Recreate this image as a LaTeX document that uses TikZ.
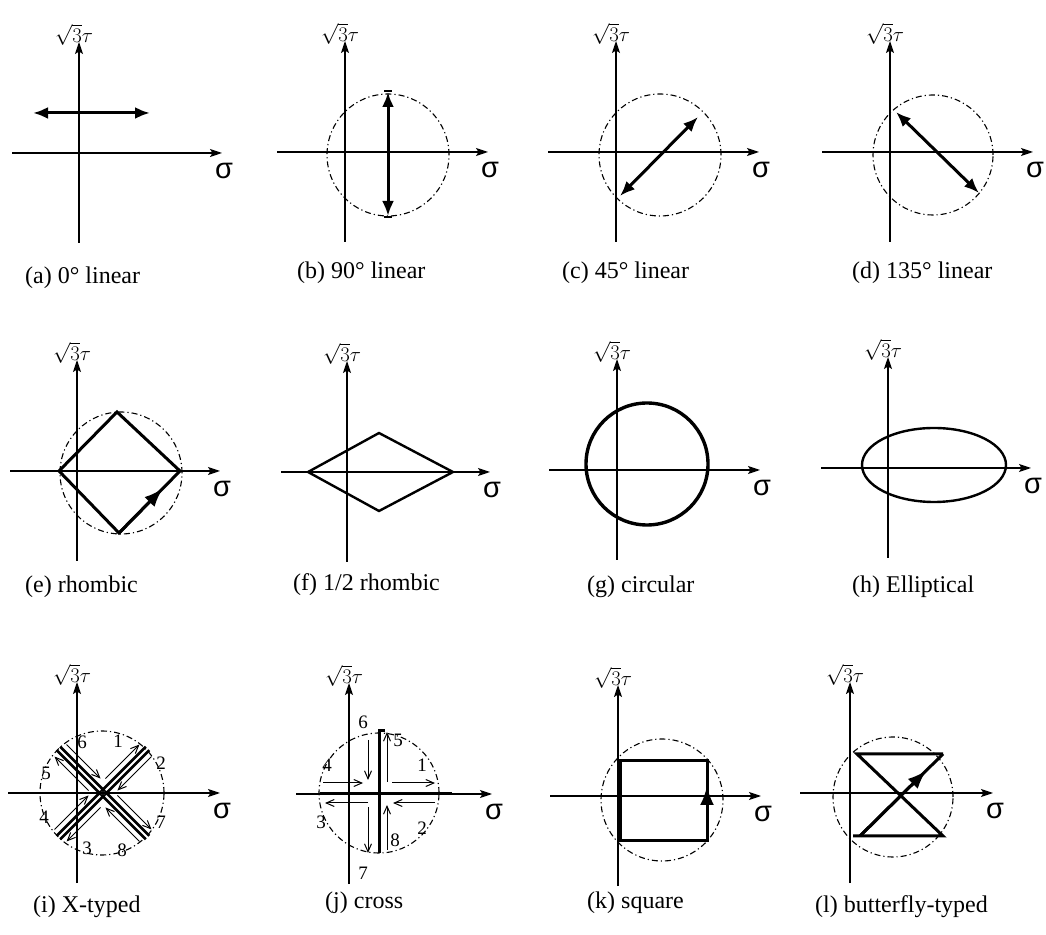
\documentclass[tikz,border=0pt]{standalone}
\usepackage{fontspec}
\setmainfont{Liberation Serif}
\newfontfamily\sigmafont{Liberation Sans}
\usetikzlibrary{arrows.meta, calc}

% axes of one panel: #1 = left end of the sigma axis, #2 = panel name
\newcommand{\drawaxes}[2]{%
    \draw[axis] (#1,0) -- (143,0);
    \draw[axis] (0,-90) -- (0,111);
    \node[taulbl] (#2-tau) at (-5,107) {$\sqrt{3}\tau$};
    \node[sigmalbl] (#2-sig) at (145,-18) {σ};
}

\begin{document}
\begin{tikzpicture}[
    x=1pt, y=1pt,
    axis/.style={draw, line width=1.3pt, -{Stealth[length=12pt, width=8pt, inset=2.5pt]}},
    loadpath/.style={draw, line width=3pt, line join=miter},
    envelope/.style={draw, line width=1.1pt, dash pattern=on 6pt off 3pt on 1.2pt off 3pt},
    dirarrow/.style={draw, line width=3pt, {Latex[length=15pt, width=12pt]}-{Latex[length=15pt, width=12pt]}},
    headarrow/.style={-{Latex[length=19pt, width=14pt]}},
    thinarrow/.style={draw, line width=1pt, -{Straight Barb[length=8pt, width=7pt]}},
    caption/.style={anchor=west, inner sep=0pt, font=\fontsize{24}{24}\selectfont},
    taulbl/.style={anchor=south, inner sep=0.5pt, font=\fontsize{22}{22}\selectfont},
    sigmalbl/.style={inner sep=0pt, font=\sigmafont\fontsize{29}{29}\selectfont},
    steplbl/.style={inner sep=0.5pt, font=\fontsize{19}{19}\selectfont}
]
    \useasboundingbox (0,0) rectangle (1046,934);

    % ---- row 1 ----
    \begin{scope}[shift={(79,781)}]
        \drawaxes{-67}{a}
        \draw[dirarrow] (-46,40) -- (71,40);
        \node[caption] (a-cap) at (-54,-125) {(a) 0° linear};
    \end{scope}

    \begin{scope}[shift={(345,782)}]
        \drawaxes{-68}{b}
        \draw[envelope] (43,-3) circle (61);
        \draw[dirarrow] (43,-64) -- (43,60);
        \draw[line width=1.5pt] (39,61) -- (47,61) (39,-65) -- (47,-65);
        \node[caption] (b-cap) at (-48,-121) {(b) 90° linear};
    \end{scope}

    \begin{scope}[shift={(616,782)}]
        \drawaxes{-68}{c}
        \draw[envelope] (44,-3) circle (61);
        \draw[dirarrow] (4,-44) -- (82,35);
        \node[caption] (c-cap) at (-54,-121) {(c) 45° linear};
    \end{scope}

    \begin{scope}[shift={(890,782)}]
        \drawaxes{-68}{d}
        \draw[envelope] (43,-3) circle (60);
        \draw[dirarrow] (6,40) -- (89,-41);
        \node[caption] (d-cap) at (-38,-121) {(d) 135° linear};
    \end{scope}

    % ---- row 2 ----
    \begin{scope}[shift={(77,463)}]
        \drawaxes{-67}{e}
        \draw[envelope] (44,-2) circle (61);
        \draw[loadpath] (-18,0) -- (40,59) -- (103,0) -- (42,-62) -- cycle;
        \draw[loadpath, headarrow] (42,-62) -- ($(42,-62)!0.72!(103,0)$);
        \node[caption] (e-cap) at (-52,-116) {(e) rhombic};
    \end{scope}

    \begin{scope}[shift={(347,462)}]
        \drawaxes{-66}{f}
        \draw[loadpath, line width=2.4pt] (-39,0) -- (32,39) -- (106,0) -- (32,-39) -- cycle;
        \node[caption] (f-cap) at (-54,-113) {(f) 1/2 rhombic};
    \end{scope}

    \begin{scope}[shift={(617,464)}]
        \drawaxes{-68}{g}
        \draw[loadpath, line width=3.4pt] (30,6) circle (61);
        \node[caption] (g-cap) at (-30,-117) {(g) circular};
    \end{scope}

    \begin{scope}[shift={(888,466)}]
        \drawaxes{-67}{h}
        \draw[loadpath, line width=2.4pt] (46,3) ellipse (72 and 37);
        \node[caption] (h-cap) at (-36,-119) {(h) Elliptical};
    \end{scope}

    % ---- row 3 ----
    \begin{scope}[shift={(77,141)}]
        \drawaxes{-69}{i}
        \draw[envelope] (25,0) circle (62);
        \begin{scope}[shift={(26,0)}]
            \foreach \ang in {45,135,225,315} {
                \begin{scope}[rotate=\ang]
                    \draw[loadpath, line width=2.6pt] (0,2.5) -- (63,2.5);
                    \draw[loadpath, line width=2.6pt] (0,-2.5) -- (63,-2.5);
                    \draw[thinarrow] (12,8.5) -- (60,8.5);
                    \draw[thinarrow] (60,-8.5) -- (12,-8.5);
                \end{scope}
            }
        \end{scope}
        \node[steplbl] (i-1) at (41,52) {1};
        \node[steplbl] (i-2) at (84,30) {2};
        \node[steplbl] (i-3) at (10,-55) {3};
        \node[steplbl] (i-4) at (-33,-24) {4};
        \node[steplbl] (i-5) at (-31,20) {5};
        \node[steplbl] (i-6) at (5,51) {6};
        \node[steplbl] (i-7) at (84,-29) {7};
        \node[steplbl] (i-8) at (45,-57) {8};
        \node[caption] (i-cap) at (-44,-114) {(i) X-typed};
    \end{scope}

    \begin{scope}[shift={(349,140)}]
        \drawaxes{-53}{j}
        \draw[envelope] (30,1) circle (60);
        \draw[loadpath] (-29,0) -- (103,0);
        \draw[loadpath] (30,-59) -- (30,63) -- (36,63);
        \draw[thinarrow] (43,11) -- (86,11);
        \draw[thinarrow] (86,-9) -- (44,-9);
        \draw[thinarrow] (19,-9) -- (-24,-9);
        \draw[thinarrow] (-26,11) -- (14,11);
        \draw[thinarrow] (38,12) -- (38,62);
        \draw[thinarrow] (19,54) -- (19,14);
        \draw[thinarrow] (19,-13) -- (19,-59);
        \draw[thinarrow] (38,-56) -- (38,-11);
        \node[steplbl] (j-1) at (73,29) {1};
        \node[steplbl] (j-2) at (73,-34) {2};
        \node[steplbl] (j-3) at (-28,-28) {3};
        \node[steplbl] (j-4) at (-22,29) {4};
        \node[steplbl] (j-5) at (49,54) {5};
        \node[steplbl] (j-6) at (14,72) {6};
        \node[steplbl] (j-7) at (14,-79) {7};
        \node[steplbl] (j-8) at (46,-46) {8};
        \node[caption] (j-cap) at (-24,-109) {(j) cross};
    \end{scope}

    \begin{scope}[shift={(618,138)}]
        \drawaxes{-68}{k}
        \draw[envelope] (44,-4) circle (61);
        \draw[loadpath] (2,35) rectangle (89,-45);
        \draw[loadpath, headarrow] (89,-45) -- (89,10);
        \node[caption] (k-cap) at (-31,-107) {(k) square};
    \end{scope}

    \begin{scope}[shift={(850,141)}]
        \drawaxes{-50}{l}
        \draw[envelope] (43,-4) circle (60);
        \draw[loadpath] (3,-43) -- (93,-43) -- (7,39) -- (93,39);
        \draw[loadpath] (10,-43) -- (93,39);
        \draw[loadpath, headarrow] (10,-43) -- ($(10,-43)!0.8!(93,39)$);
        \node[caption] (l-cap) at (-35,-114) {(l) butterfly-typed};
    \end{scope}
\end{tikzpicture}
\end{document}
